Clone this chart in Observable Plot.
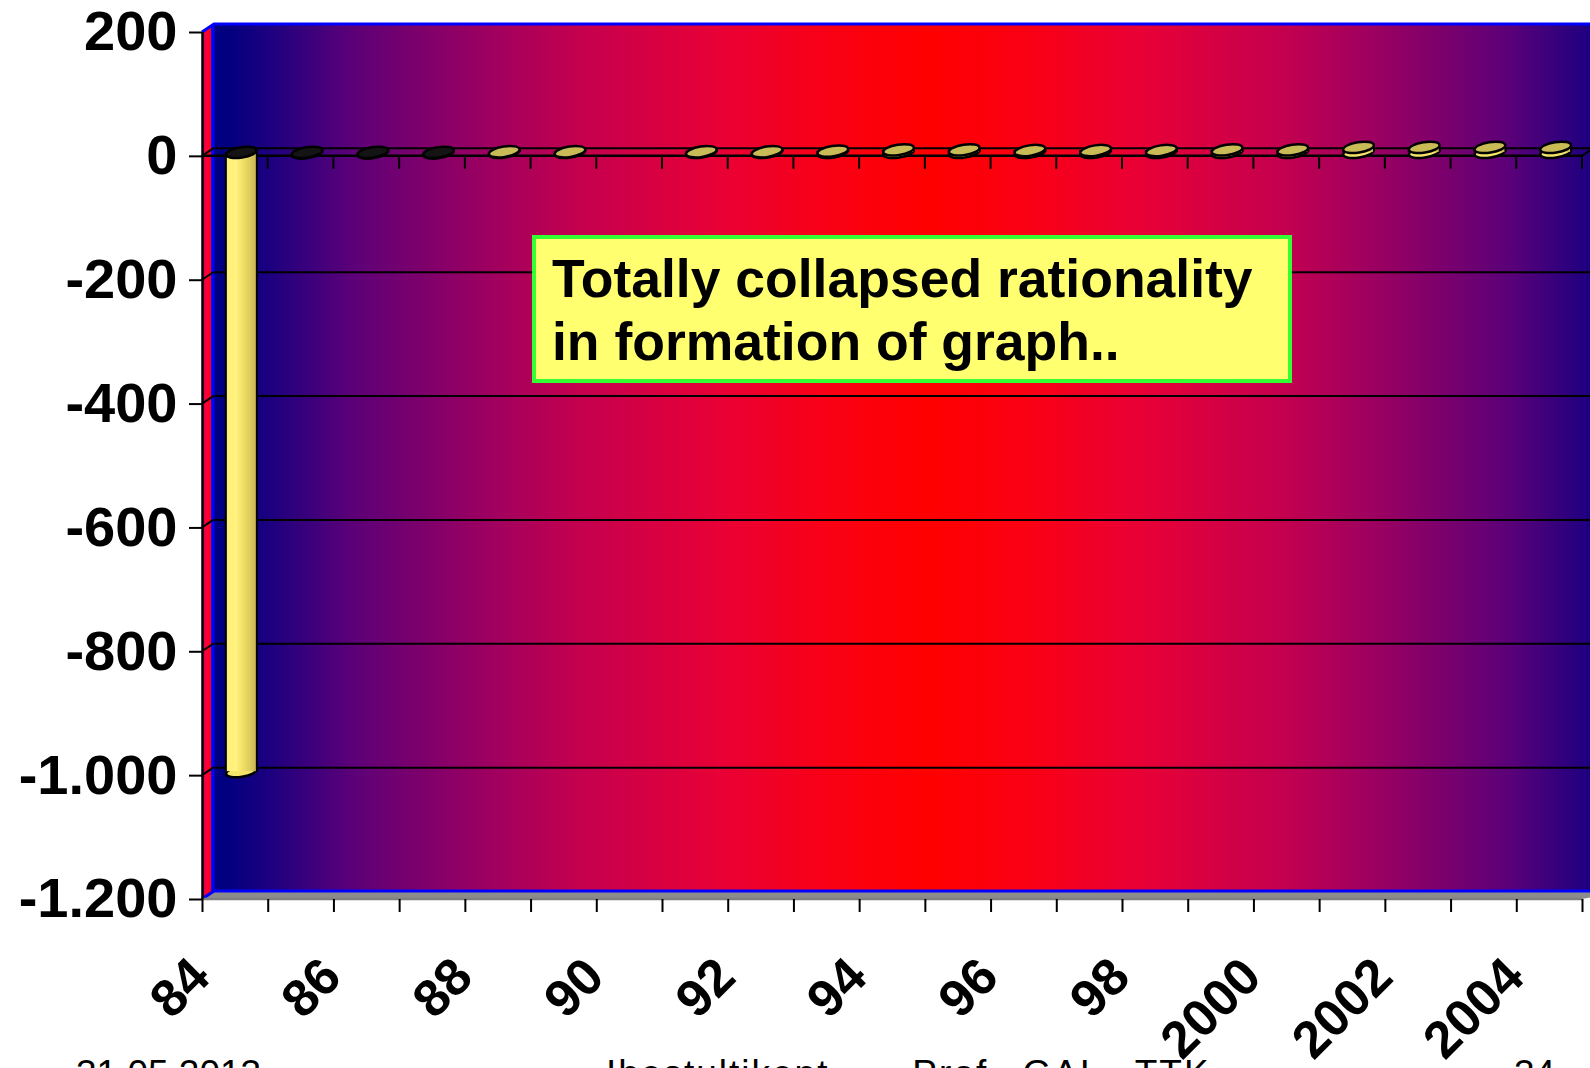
<!DOCTYPE html>
<html>
<head>
<meta charset="utf-8">
<script src="https://cdn.jsdelivr.net/npm/d3@7"></script>
<script src="https://cdn.jsdelivr.net/npm/@observablehq/plot@0.6"></script>
<style>
  html, body { margin: 0; padding: 0; background: #fff; overflow: hidden; }
  #wrap { position: relative; width: 1590px; height: 1068px; overflow: hidden; }
  #note { position: absolute; left: 532px; top: 235px; width: 760px; height: 148px; box-sizing: border-box;
          border: 4px solid #33ff33; background: #ffff70; padding: 8px 0 0 16px;
          font: bold 53.5px "Liberation Sans", Arial, sans-serif; line-height: 63px; color: #000; white-space: nowrap; }
  .foot { position: absolute; top: 1055px; font: 37px "Liberation Sans", Arial, sans-serif; line-height: 37px; color: #000; white-space: nowrap; }
</style>
</head>
<body>
<div id="wrap"></div>
<script>
// ---------- data ----------
const years = ["84","85","86","87","88","89","90","91","92","93","94","95","96","97","98","99","2000","2001","2002","2003","2004"];
const values = [-1000, -1, -1, -1, 1, 1, null, 1, 1, 2, 4, 4, 3, 3, 3, 4, 4, 8, 8, 8, 8];
const labelYears = ["84","86","88","90","92","94","96","98","2000","2002","2004"];
const yTicks = [200, 0, -200, -400, -600, -800, -1000, -1200];
const gridTicks = [0, -200, -400, -600, -800, -1000];
const noteLines = ["Totally collapsed rationality", "in formation of graph.."];
const footerLeft = "31.05.2013";
const footerCenter = "Ihestultikent - Prof GAL TTK";
const footerRight = "34";

// ---------- helpers ----------
const N = years.length;
const bars = years.map((year, i) => ({year, i, v: values[i]})).filter(d => d.v != null);
const labels = labelYears.map(y => ({year: y, i: years.indexOf(y)}));
const DX = 12, DY = -8;   // depth of the 3D walls
const BX = 6, BY = -4;    // bars sit in the middle of the depth
const fmt = d3.formatLocale({decimal: ",", thousands: ".", grouping: [3], currency: ["", ""], minus: "-"}).format(",d");
const lo = d => Math.min(0, d.v), hi = d => Math.max(0, d.v);
const cx = d => d.i + 0.5;

function ellipse(rx, ry, deg) {
  const a = deg * Math.PI / 180, c = Math.cos(a), s = Math.sin(a), k = 0.5523;
  const T = (px, py) => [px * c - py * s, px * s + py * c];
  return {
    draw(ctx) {
      const p = [
        [rx, 0], [rx, ry * k], [rx * k, ry], [0, ry], [-rx * k, ry], [-rx, ry * k], [-rx, 0],
        [-rx, -ry * k], [-rx * k, -ry], [0, -ry], [rx * k, -ry], [rx, -ry * k], [rx, 0]
      ].map(q => T(q[0], q[1]));
      ctx.moveTo(...p[0]);
      for (let j = 1; j < p.length; j += 3) ctx.bezierCurveTo(...p[j], ...p[j + 1], ...p[j + 2]);
      ctx.closePath();
    }
  };
}
const ell = ellipse(15.5, 5.2, -9);

function defs() {
  const g = d3.create("svg:defs");
  const wall = g.append("linearGradient").attr("id", "wallGrad").attr("gradientUnits", "userSpaceOnUse")
    .attr("x1", 214).attr("x2", 1622).attr("y1", 0).attr("y2", 0);
  const half = [[0, "#000080"], [0.03, "#1c0080"], [0.09, "#5c0078"], [0.19, "#a0005f"], [0.25, "#c4004f"], [0.35, "#e80036"], [0.43, "#fa0014"], [0.5, "#ff0000"]];
  const stops = half.concat(half.slice(0, -1).reverse().map(([o, c]) => [1 - o, c]));
  stops.forEach(([o, c]) => wall.append("stop").attr("offset", o).attr("stop-color", c));
  const side = g.append("linearGradient").attr("id", "sideGrad").attr("x1", 0).attr("x2", 1).attr("y1", 0).attr("y2", 0);
  [[0, "#c0007a"], [0.4, "#ff0030"], [0.7, "#ff0010"], [0.8, "#2000f0"], [1, "#0000ff"]].forEach(([o, c]) => side.append("stop").attr("offset", o).attr("stop-color", c));
  const cyl = g.append("linearGradient").attr("id", "cylGrad").attr("x1", 0).attr("x2", 1).attr("y1", 0).attr("y2", 0);
  [[0, "#fff07a"], [0.35, "#fff27e"], [0.55, "#f2e068"], [0.8, "#dccb5e"], [1, "#c8b452"]].forEach(([o, c]) => cyl.append("stop").attr("offset", o).attr("stop-color", c));
  return g.node();
}

function decor(index, scales) {
  const x = scales.x, y = scales.y;
  const xL = x(0), xR = x(N), yT = y(200), yB = y(-1200), y0 = y(0);
  const g = d3.create("svg:g").attr("fill", "none");
  // side wall
  g.append("path").attr("d", `M${xL},${yT}L${xL + DX},${yT + DY}L${xL + DX},${yB + DY}L${xL},${yB}Z`).attr("fill", "url(#sideGrad)");
  // floor
  g.append("path").attr("d", `M${xL},${yB}L${xL + DX},${yB + DY}L${xR + DX + 30},${yB + DY}L${xR},${yB}Z`).attr("fill", "#8c8c8c");
  // blue outline of the back wall
  g.append("path").attr("d", `M${xL},${yT}L${xL + DX},${yT + DY}L${xR + DX + 30},${yT + DY}`).attr("stroke", "#0000ff").attr("stroke-width", 3);
  g.append("path").attr("d", `M${xL + DX - 1},${yT + DY}L${xL + DX - 1},${yB + DY}`).attr("stroke", "#0000ff").attr("stroke-width", 3);
  g.append("path").attr("d", `M${xL},${yB}L${xL + DX},${yB + DY}L${xR + DX + 30},${yB + DY}`).attr("stroke", "#0000ff").attr("stroke-width", 3);
  // left diagonals of the gridlines
  for (const t of gridTicks) {
    g.append("path").attr("d", `M${xL},${y(t)}L${xL + DX},${y(t) + DY}`).attr("stroke", "#000").attr("stroke-width", 2);
  }
  // zero plane: right diagonal and front line with ticks
  g.append("path").attr("d", `M${xR},${y0}L${xR + DX},${y0 + DY}`).attr("stroke", "#000").attr("stroke-width", 2);
  g.append("path").attr("d", `M${xL},${y0}L${xR},${y0}`).attr("stroke", "#000").attr("stroke-width", 2.5);
  for (let i = 1; i <= N; i++) {
    g.append("path").attr("d", `M${x(i)},${y0}V${y0 + 13}`).attr("stroke", "#000").attr("stroke-width", 2);
  }
  // front floor edge
  g.append("path").attr("d", `M${xL},${yB}L${xR},${yB}`).attr("stroke", "#808080").attr("stroke-width", 2.5);
  return g.node();
}

const plot = Plot.plot({
  width: 1590,
  height: 1068,
  marginLeft: 202,
  marginRight: 8,
  marginTop: 32,
  marginBottom: 169,
  x: {domain: [0, N], axis: null},
  y: {domain: [-1200, 200], axis: null},
  style: {fontFamily: "'Liberation Sans', Arial, sans-serif", background: "white", color: "black"},
  marks: [
    defs,
    Plot.rect([0], {x1: 0, x2: N + 1, y1: -1200, y2: 200, dx: DX, dy: DY, fill: "url(#wallGrad)"}),
    Plot.ruleY(gridTicks, {x1: 0, x2: N + 1, dx: DX, dy: DY, stroke: "#000", strokeWidth: 2}),
    decor,
    Plot.ruleX([0], {y1: -1200, y2: 200, stroke: "#000", strokeWidth: 2.5}),
    // cylinders: lower cap, body, sides, upper cap
    Plot.dot(bars, {x: cx, y: lo, symbol: ell, r: 5, fill: "#f4e46a", stroke: "#000", strokeWidth: 2.5, dx: BX, dy: BY}),
    Plot.rect(bars, {x1: d => d.i, x2: d => d.i + 1, y1: lo, y2: hi, insetLeft: 17.36, insetRight: 17.36, dx: BX, dy: BY, fill: "url(#cylGrad)"}),
    Plot.ruleX(bars, {x: cx, y1: lo, y2: hi, dx: BX - 15.5, dy: BY, stroke: "#000", strokeWidth: 2}),
    Plot.ruleX(bars, {x: cx, y1: lo, y2: hi, dx: BX + 15.5, dy: BY, stroke: "#000", strokeWidth: 2}),
    Plot.dot(bars.filter(d => d.v >= 0), {x: cx, y: hi, symbol: ell, r: 5, fill: "#c9bb55", stroke: "#000", strokeWidth: 2.5, dx: BX, dy: BY}),
    Plot.dot(bars.filter(d => d.v < 0), {x: cx, y: hi, symbol: ell, r: 5, fill: "#141414", stroke: "#000", strokeWidth: 2.5, dx: BX, dy: BY}),
    // axes
    Plot.axisY(yTicks, {tickSize: 13, tickPadding: 12, tickFormat: fmt, fontSize: 56, fontWeight: "bold", stroke: "#000", strokeWidth: 2}),
    Plot.axisX(d3.range(0, N + 1), {anchor: "bottom", tickSize: 13, tickFormat: () => "", stroke: "#000", strokeWidth: 2}),
    Plot.text(labels, {x: cx, text: "year", frameAnchor: "bottom", rotate: -45, textAnchor: "end", lineAnchor: "bottom",
      dx: -23, dy: 80, fontSize: 52, fontWeight: "bold", fill: "#000"})
  ]
});

const wrap = document.getElementById("wrap");
wrap.appendChild(plot);
const note = document.createElement("div");
note.id = "note";
note.innerHTML = noteLines.map(s => `<div>${s}</div>`).join("");
wrap.appendChild(note);
[[footerLeft, 76, 0], [footerCenter, 606, 22], [footerRight, 1514, 0]].forEach(([t, left, ws]) => {
  const d = document.createElement("div");
  d.className = "foot";
  d.style.left = left + "px";
  d.style.wordSpacing = ws + "px";
  d.style.letterSpacing = ws ? "2px" : "0";
  d.textContent = t;
  wrap.appendChild(d);
});
</script>
</body>
</html>
